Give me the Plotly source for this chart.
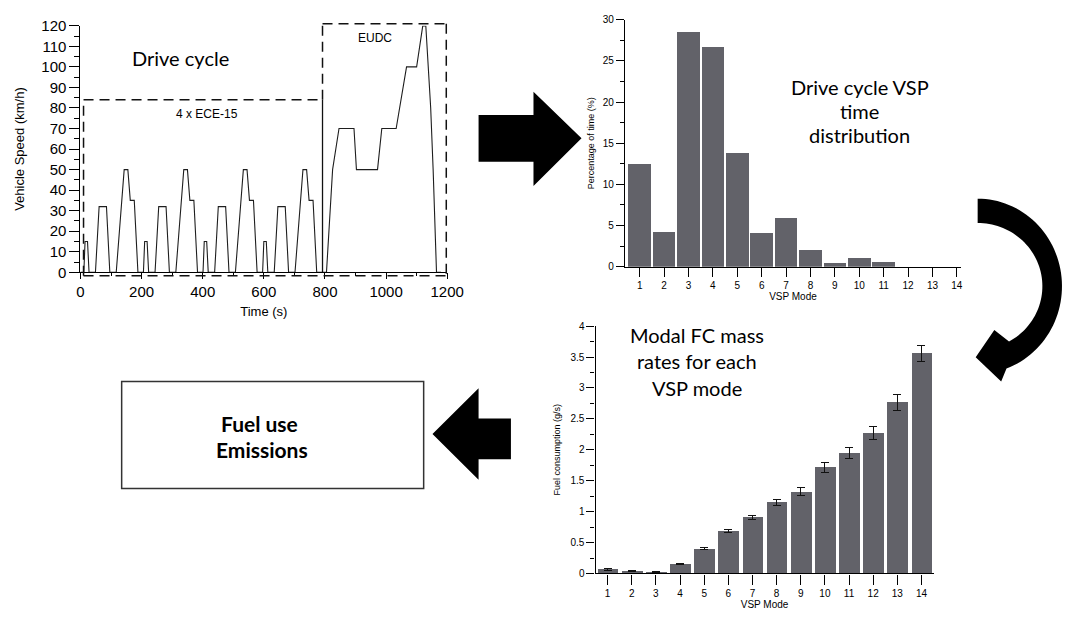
import numpy as np
import plotly.graph_objects as go

W, H = 1078, 623

# ---------------- data ----------------
# NEDC drive cycle: 4 x ECE-15 + EUDC (time s, speed km/h)
time_s = [0, 11, 15, 23, 28, 49, 61, 85, 96, 117, 143, 155, 163, 176, 188,
          195, 206, 210, 218, 223, 244, 256, 280, 291, 312, 338, 350, 358, 371, 383,
          390, 401, 405, 413, 418, 439, 451, 475, 486, 507, 533, 545, 553, 566, 578,
          585, 596, 600, 608, 613, 634, 646, 670, 681, 702, 728, 740, 748, 761, 773,
          780, 805, 825, 846, 895, 903, 972, 986, 1033, 1067, 1100, 1120, 1130, 1146,
          1154, 1165, 1180]
speed_kmh = [0, 0, 15, 15, 0, 0, 32, 32, 0, 0, 50, 50, 35, 35, 0,
             0, 0, 15, 15, 0, 0, 32, 32, 0, 0, 50, 50, 35, 35, 0,
             0, 0, 15, 15, 0, 0, 32, 32, 0, 0, 50, 50, 35, 35, 0,
             0, 0, 15, 15, 0, 0, 32, 32, 0, 0, 50, 50, 35, 35, 0,
             0, 0, 50, 70, 70, 50, 50, 70, 70, 100, 100, 120, 120, 80,
             50, 0, 0]

vsp_modes = list(range(1, 15))
vsp_time_pct = [12.5, 4.2, 28.5, 26.7, 13.8, 4.1, 5.9, 2.1, 0.5, 1.05, 0.6, 0.0, 0.0, 0.0]
fc_rate_gs = [0.065, 0.045, 0.02, 0.15, 0.40, 0.68, 0.91, 1.15, 1.32, 1.72, 1.95, 2.27, 2.77, 3.56]
fc_err_gs = [0.01, 0.01, 0.005, 0.01, 0.015, 0.025, 0.035, 0.05, 0.065, 0.08, 0.085, 0.11, 0.13, 0.13]

# annotation boxes on the drive cycle (time s, speed km/h)
ece_box = dict(t0=10, t1=792, v_top=84, v_bot=-1.7)
eudc_box = dict(t0=792, t1=1197, v_top=121, v_bot=-1.7)
T_RANGE = [0, 1200]
V_RANGE = [0, 120]

BAR = '#626269'
FONT_AX = 'Liberation Sans, Arial, sans-serif'
FONT_TXT = 'Lato, Carlito, sans-serif'


def px_x(p):
    return p / W


def px_y(p):
    return 1 - p / H


def dom_t(t):
    return (t - T_RANGE[0]) / (T_RANGE[1] - T_RANGE[0])


def dom_v(v):
    return (v - V_RANGE[0]) / (V_RANGE[1] - V_RANGE[0])


fig = go.Figure()

fig.add_trace(go.Scatter(x=time_s, y=speed_kmh, mode='lines',
                         line=dict(color='#1e1e1e', width=1.1),
                         xaxis='x', yaxis='y', showlegend=False, hoverinfo='x+y'))
fig.add_trace(go.Bar(x=vsp_modes, y=vsp_time_pct, width=0.92, marker=dict(color=BAR, line=dict(width=0)),
                     xaxis='x2', yaxis='y2', showlegend=False))
fig.add_trace(go.Bar(x=vsp_modes, y=fc_rate_gs, width=0.86, marker=dict(color=BAR, line=dict(width=0)),
                     error_y=dict(type='data', array=fc_err_gs, color='#111', thickness=1, width=4),
                     xaxis='x3', yaxis='y3', showlegend=False))

axis_common = dict(showline=True, linecolor='black', linewidth=1.2, ticks='outside',
                   tickcolor='black', showgrid=False, zeroline=False, fixedrange=True)

fig.update_layout(
    width=W, height=H, margin=dict(l=0, r=0, t=0, b=0),
    paper_bgcolor='white', plot_bgcolor='white', bargap=0,
    xaxis=dict(**axis_common, domain=[px_x(78), px_x(452)], range=T_RANGE, anchor='y',
               dtick=200, tick0=0, ticklen=6, tickwidth=1.2,
               minor=dict(dtick=100, ticklen=3, ticks='outside', tickcolor='black'),
               tickfont=dict(family=FONT_AX, size=15, color='black'),
               title=dict(text='Time (s)', font=dict(family=FONT_AX, size=13, color='black'), standoff=7)),
    yaxis=dict(**axis_common, domain=[px_y(270.7), px_y(17.3)], range=V_RANGE, anchor='x',
               dtick=10, tick0=0, ticklen=10, tickwidth=1.2,
               minor=dict(dtick=5, ticklen=5, ticks='outside', tickcolor='black'),
               tickfont=dict(family=FONT_AX, size=15, color='black'),
               title=dict(text='Vehicle Speed (km/h)', font=dict(family=FONT_AX, size=13, color='black'), standoff=13)),
    xaxis2=dict(**axis_common, domain=[px_x(633.3), px_x(976)], range=[0.397, 14.17], anchor='y2',
                tickvals=vsp_modes, ticklen=9, tickwidth=1,
                tickfont=dict(family=FONT_AX, size=10, color='black'),
                title=dict(text='VSP Mode', font=dict(family=FONT_AX, size=10, color='black'), standoff=3)),
    yaxis2=dict(**axis_common, domain=[px_y(265), px_y(11)], range=[0, 30], anchor='x2',
                dtick=5, tick0=0, ticklen=8, tickwidth=1,
                minor=dict(dtick=2.5, ticklen=4, ticks='outside', tickcolor='black'),
                tickfont=dict(family=FONT_AX, size=10, color='black'),
                title=dict(text='Percentage of time (%)', font=dict(family=FONT_AX, size=9, color='black'), standoff=6)),
    xaxis3=dict(**axis_common, domain=[px_x(603.3), px_x(948)], range=[0.5, 14.5], anchor='y3',
                tickvals=vsp_modes, ticklen=10, tickwidth=1,
                tickfont=dict(family=FONT_AX, size=10, color='black'),
                title=dict(text='VSP Mode', font=dict(family=FONT_AX, size=10, color='black'), standoff=2)),
    yaxis3=dict(**axis_common, domain=[px_y(580.3), px_y(326)], range=[0, 4], anchor='x3',
                dtick=0.5, tick0=0, ticklen=8, tickwidth=1,
                minor=dict(dtick=0.25, ticklen=4, ticks='outside', tickcolor='black'),
                tickfont=dict(family=FONT_AX, size=10, color='black'),
                title=dict(text='Fuel consumption (g/s)', font=dict(family=FONT_AX, size=9, color='black'), standoff=8)),
)

shapes = []
dash_line = dict(color='#111', width=1.5, dash='10px,6px')


def dline(t0, v0, t1, v1, dash=True):
    shapes.append(dict(type='line', xref='x domain', yref='y domain',
                       x0=dom_t(t0), y0=dom_v(v0), x1=dom_t(t1), y1=dom_v(v1),
                       line=dash_line if dash else dict(color='#111', width=1.3), layer='above'))


# ECE box
dline(ece_box['t0'], ece_box['v_bot'], ece_box['t0'], ece_box['v_top'])
dline(ece_box['t0'], ece_box['v_top'], ece_box['t1'], ece_box['v_top'])
dline(ece_box['t1'], 0, ece_box['t1'], ece_box['v_top'], dash=False)
# EUDC box
dline(eudc_box['t0'], ece_box['v_top'], eudc_box['t0'], eudc_box['v_top'])
dline(eudc_box['t0'], eudc_box['v_top'], eudc_box['t1'], eudc_box['v_top'])
dline(eudc_box['t1'], eudc_box['v_top'], eudc_box['t1'], eudc_box['v_bot'])
# common bottom
dline(ece_box['t0'], ece_box['v_bot'], eudc_box['t1'], eudc_box['v_bot'])


def poly(pts):
    return 'M ' + ' L '.join(f'{px_x(x):.5f},{px_y(y):.5f}' for x, y in pts) + ' Z'


# right arrow (top)
right_arrow = [(484, 109), (540, 109), (540, 85), (589, 133), (540, 182), (540, 157), (484, 157)]
# left arrow (middle)
left_arrow = [(517, 421), (484, 421), (484, 390), (437, 437), (484, 484), (484, 463), (517, 463)]

# curved arrow
cx, cy = 993, 285
ang_out = np.linspace(-90, 70, 60)
outer = [(cx + 86 * np.cos(np.radians(a)), cy + 90 * np.sin(np.radians(a))) for a in ang_out]
ang_in = np.linspace(61, -90, 60)
inner = [(cx + 66 * np.cos(np.radians(a)), cy + 65 * np.sin(np.radians(a))) for a in ang_in]
head = [(1017, 383), (991, 358), (1010, 330)]
curved = outer + head + inner

for pts in (right_arrow, left_arrow, curved):
    shapes.append(dict(type='path', xref='paper', yref='paper', path=poly(pts),
                       fillcolor='black', line=dict(width=0), layer='above'))

# result box
shapes.append(dict(type='rect', xref='paper', yref='paper',
                   x0=px_x(120), x1=px_x(428), y0=px_y(493), y1=px_y(383),
                   line=dict(color='#333', width=1.5), fillcolor='rgba(0,0,0,0)'))

fig.update_layout(shapes=shapes)

annotations = []


def note(text, x, y, size, bold=False, family=FONT_TXT):
    annotations.append(dict(text=f'<b>{text}</b>' if bold else text, x=px_x(x), y=px_y(y),
                            xref='paper', yref='paper', xanchor='center', yanchor='middle',
                            showarrow=False, font=dict(family=family, size=size, color='black')))


note('Drive cycle', 180, 50, 20)
note('4 x ECE-15', 207, 108, 12, family=FONT_AX)
note('EUDC', 378, 30, 12, family=FONT_AX)
note('Drive cycle VSP', 873, 80, 20)
note('time', 873, 105, 20)
note('distribution', 873, 130, 20)
note('Modal FC mass', 707, 335, 20)
note('rates for each', 707, 362, 20)
note('VSP mode', 707, 390, 20)
note('Fuel use', 261, 426, 21, bold=True)
note('Emissions', 263, 453, 21, bold=True)

fig.update_layout(annotations=annotations)

fig.write_html('out.html')
